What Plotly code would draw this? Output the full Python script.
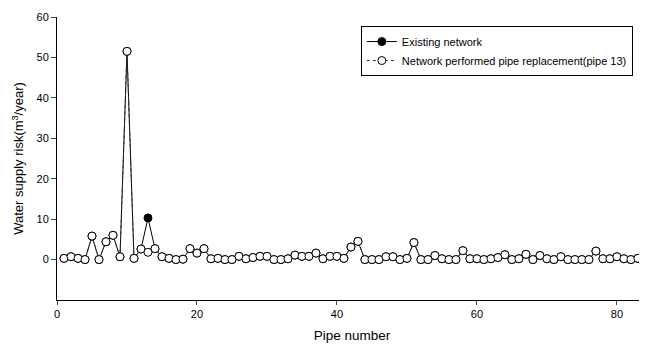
import plotly.graph_objects as go

pipes = list(range(1, 85))
replaced = [0.3, 0.7, 0.3, 0.0, 5.8, 0.0, 4.4, 6.0, 0.7, 51.5,
            0.3, 2.6, 1.8, 2.7, 0.7, 0.3, 0.0, 0.1, 2.7, 1.6,
            2.7, 0.2, 0.3, 0.0, 0.0, 0.8, 0.2, 0.5, 0.8, 0.8,
            0.0, 0.0, 0.2, 1.1, 0.8, 0.8, 1.6, 0.2, 0.8, 0.8,
            0.3, 3.1, 4.5, 0.0, 0.0, 0.0, 0.7, 0.7, 0.0, 0.3,
            4.2, 0.0, 0.0, 1.0, 0.2, 0.0, 0.0, 2.2, 0.2, 0.2,
            0.0, 0.2, 0.5, 1.2, 0.0, 0.2, 1.3, 0.0, 1.0, 0.2,
            0.0, 0.7, 0.0, 0.0, 0.0, 0.0, 2.1, 0.2, 0.2, 0.7,
            0.2, 0.0, 0.3, 0.0]
existing = list(replaced)
existing[12] = 10.3  # pipe 13

xticks = [0, 20, 40, 60, 80]
yticks = [0, 10, 20, 30, 40, 50, 60]

fig = go.Figure()
fig.add_trace(go.Scatter(
    x=pipes, y=existing, mode="lines+markers", name="Existing network",
    line=dict(color="black", width=1),
    marker=dict(symbol="circle", size=8, color="black", line=dict(color="black", width=1)),
))
fig.add_trace(go.Scatter(
    x=pipes, y=replaced, mode="lines+markers",
    name="Network performed pipe replacement(pipe 13)",
    line=dict(color="#333333", width=1, dash="dot"),
    marker=dict(symbol="circle", size=8, color="white", line=dict(color="black", width=1)),
))

font = "Liberation Sans, Arial, sans-serif"
# page body has an 8px margin; figure sized/offset to compensate
fig.update_layout(
    width=639, height=337,
    margin=dict(l=49, r=0, t=9, b=45),
    paper_bgcolor="white", plot_bgcolor="white",
    font=dict(family=font, size=11, color="black"),
    showlegend=True,
    legend=dict(
        x=0.515, y=0.968, xanchor="left", yanchor="top",
        bgcolor="white", bordercolor="black", borderwidth=1,
        font=dict(size=11, family=font), tracegroupgap=0,
    ),
    xaxis=dict(
        range=[0, 84.3], tickvals=xticks, ticks="outside", ticklen=4,
        showline=True, linecolor="black", linewidth=1, showgrid=False, zeroline=False,
        title=dict(text="Pipe number", font=dict(size=13.5), standoff=11),
        tickfont=dict(size=11),
    ),
    yaxis=dict(
        range=[-10, 60], tickvals=yticks, ticks="outside", ticklen=5,
        showline=True, linecolor="black", linewidth=1, showgrid=False, zeroline=False,
        title=dict(text="Water supply risk(m<sup>3</sup>/year)", font=dict(size=13), standoff=9),
        tickfont=dict(size=11),
    ),
)

fig.write_html("out.html")
